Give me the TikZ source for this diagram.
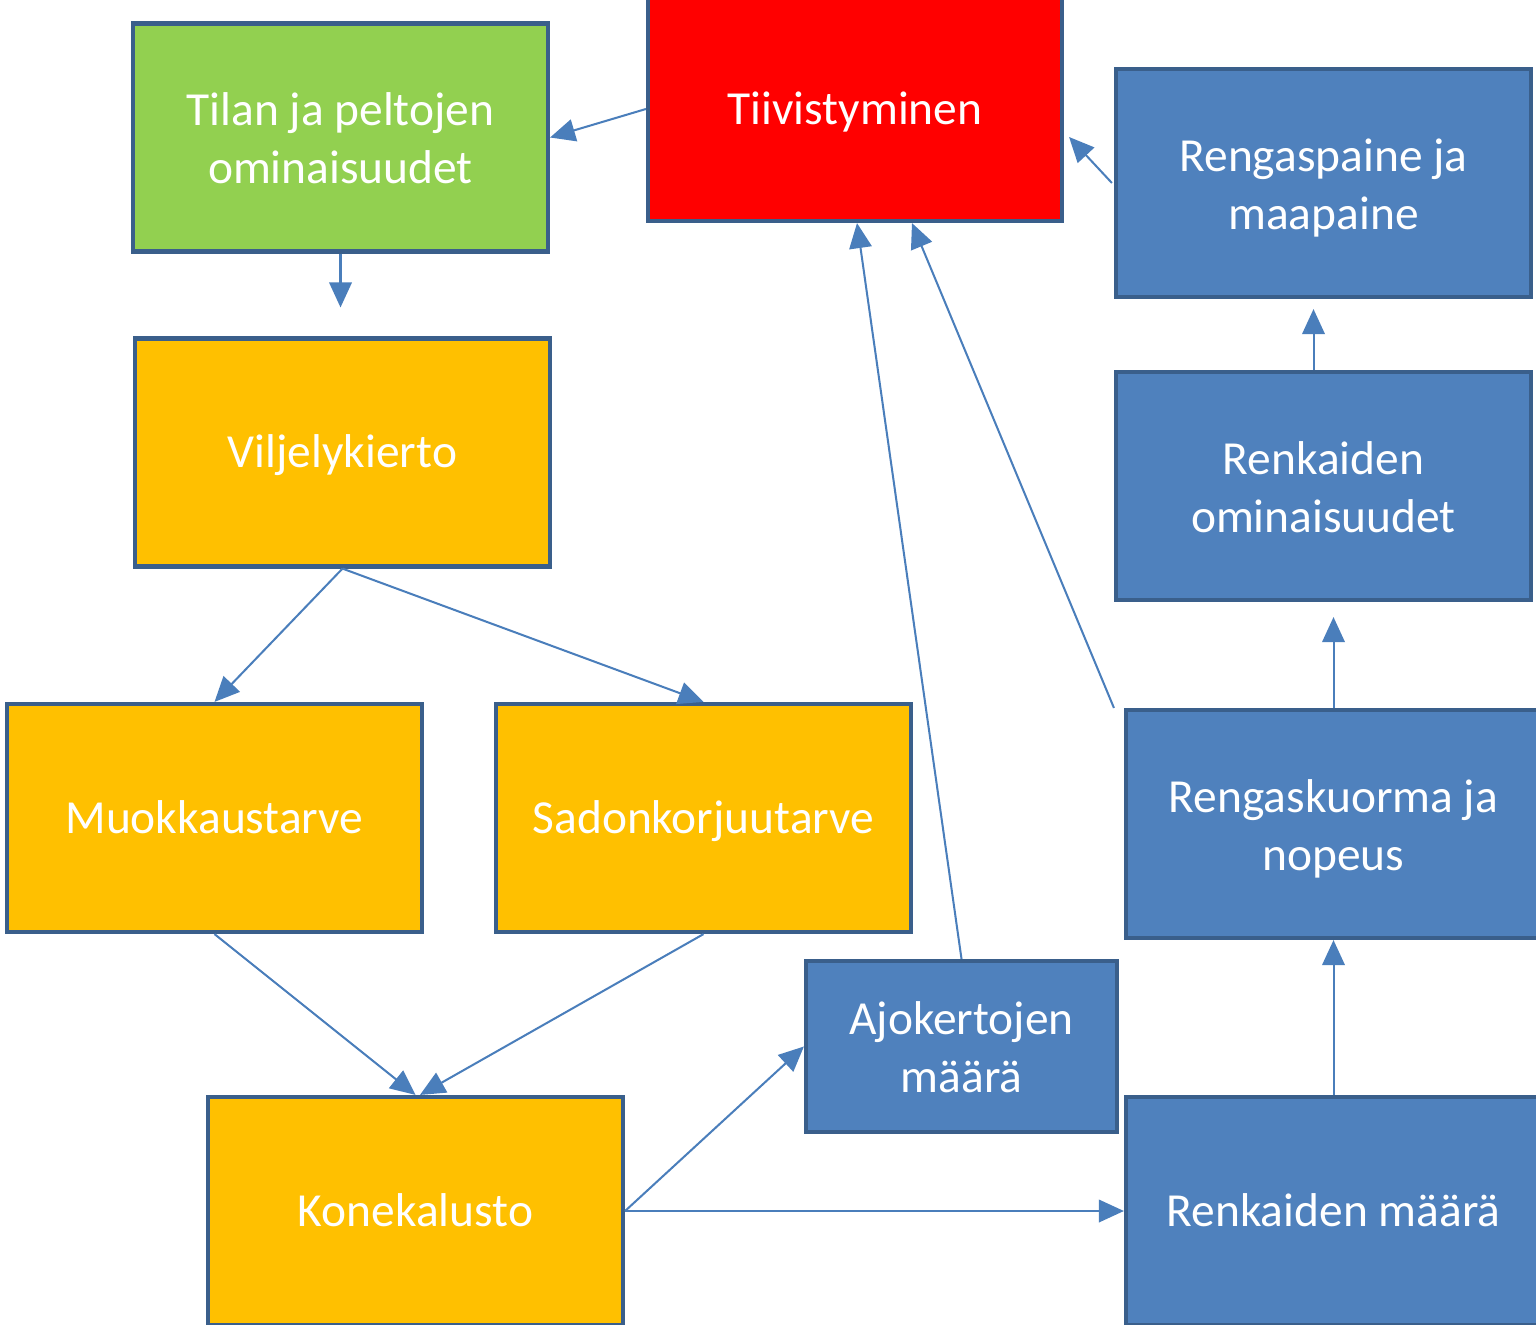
\documentclass[tikz,border=0pt]{standalone}
\usepackage{fontspec}
\setmainfont{Carlito}
\usetikzlibrary{arrows.meta,calc}
\definecolor{bordc}{HTML}{3A5F8B}
\definecolor{bluef}{HTML}{4F81BD}
\definecolor{yellf}{HTML}{FFC000}
\definecolor{greenf}{HTML}{92D050}
\definecolor{redf}{HTML}{FF0000}
\definecolor{arrc}{HTML}{4A7EBB}
\tikzset{
  box/.style={draw=bordc, line width=2.4pt, text=white, align=center,
    font=\fontsize{27}{33}\selectfont, inner sep=0pt,
    minimum width=8.3cm, minimum height=4.56cm,
    text height=24.5pt, text depth=7pt},
  twoline/.style={text height=59.5pt, text depth=7pt},
  bluebox/.style={box, fill=bluef},
  yellbox/.style={box, fill=yellf},
  conn/.style={draw=arrc, line width=1.15pt,
    -{Triangle[length=0.5cm,width=0.45cm]}},
}
\begin{document}
\begin{tikzpicture}[x=0.02cm,y=-0.02cm]
\useasboundingbox (0,0) rectangle (1536,1325);
\clip (0,0) rectangle (1536,1325);
\node[box, twoline, fill=greenf] (green) at (340.5,137.5) {Tilan ja peltojen\\ominaisuudet};
\node[box, fill=redf, minimum height=4.48cm, minimum width=8.28cm] (red) at (855,109) {Tiivistyminen};
\node[bluebox, twoline] (rp) at (1323.5,183) {Rengaspaine ja\\maapaine};
\node[bluebox, twoline] (renkom) at (1323.5,486) {Renkaiden\\ominaisuudet};
\node[bluebox, twoline] (rk) at (1333.5,824) {Rengaskuorma ja\\nopeus};
\node[bluebox] (rm) at (1333.5,1211) {Renkaiden määrä};
\node[bluebox, twoline, minimum width=6.22cm, minimum height=3.42cm] (ajo) at (961.5,1046.5) {Ajokertojen\\määrä};
\node[yellbox] (vil) at (342.5,452.5) {Viljelykierto};
\node[yellbox] (muok) at (214.5,818) {Muokkaustarve};
\node[yellbox] (sadon) at (703.5,818) {Sadonkorjuutarve};
\node[yellbox] (kone) at (415.5,1211) {Konekalusto};

\draw[conn] (red.west) -- (green.east);
\draw[conn, shorten >=0.58cm] (green.south) -- (green.south |- vil.north);
\draw[conn, shorten >=0.2cm] ($(renkom.north)+(-10,0)$) -- ($(rp.south)+(-10,0)$);
\draw[conn, shorten >=0.3cm] (rk.north) -- (rk.north |- renkom.south);
\draw[conn] (rm.north) -- (rk.south);
\draw[conn] ([xshift=-0.04cm]rp.west) -- ([yshift=-0.56cm,xshift=0.1cm]red.east);
\draw[conn] (ajo.north) -- ([xshift=0.04cm]red.south);
\draw[conn] ([xshift=-0.2cm]rk.north west) -- ([xshift=1.14cm]red.south);
\draw[conn] (vil.south) -- (muok.north);
\draw[conn] (vil.south) -- (sadon.north);
\draw[conn] (muok.south) -- (kone.north);
\draw[conn] (sadon.south) -- ([xshift=0.09cm]kone.north);
\draw[conn] (kone.east) -- (ajo.west);
\draw[conn] (kone.east) -- (rm.west);
\end{tikzpicture}
\end{document}
